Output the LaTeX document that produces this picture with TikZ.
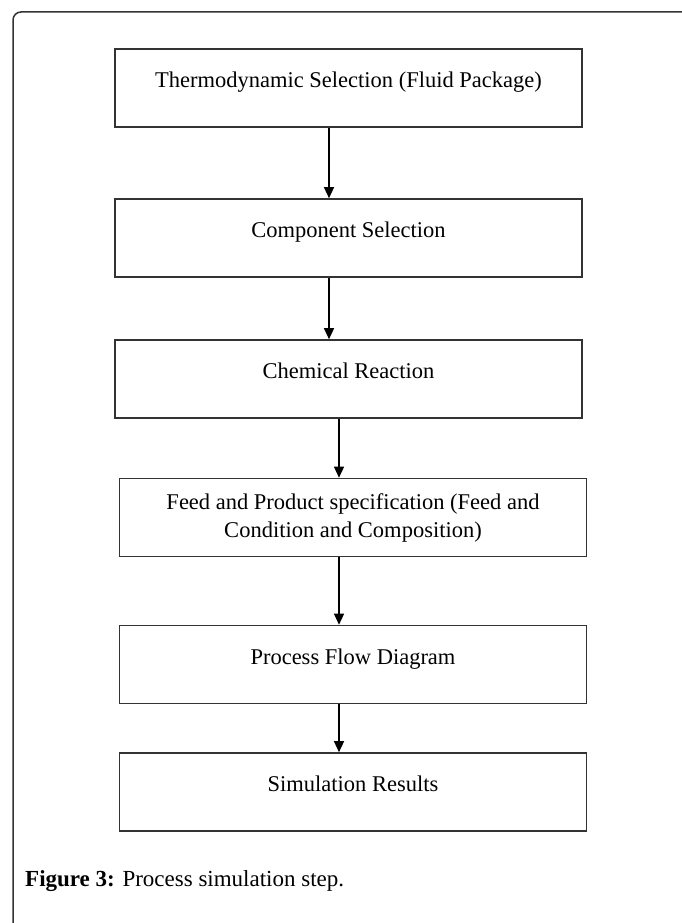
\documentclass[tikz,border=0pt]{standalone}
\usepackage{fontspec}
\setmainfont{Liberation Serif}
\usepackage{tikz}
\usetikzlibrary{arrows.meta, positioning}
\definecolor{edgegray}{HTML}{333333}
\tikzstyle{stepbox} = [rectangle, minimum width=467pt, minimum height=78pt, inner sep=0pt, text centered, align=center, draw=edgegray, line width=1.6pt, font=\fontsize{22.5}{28}\selectfont]
\tikzstyle{onerow} = [text height=16pt, text depth=17pt]
\tikzstyle{arrow} = [line width=1.3pt, -{Triangle[length=11pt,width=10pt]}, draw=black]
\tikzstyle{frame} = [line width=1.5pt, draw=edgegray, rounded corners=8pt]
\begin{document}
\begin{tikzpicture}[x=1pt, y=1pt, node distance=150pt]
    \useasboundingbox (0,0) rectangle (682,-923);
    \draw [frame] (13,-940) |- (700,-12);

    \node (therm) [stepbox, onerow] at (348.5,-88) {Thermodynamic Selection (Fluid Package)};
    \node (comp) [stepbox, onerow, below of=therm] {Component Selection};
    \node (react) [stepbox, onerow, below of=comp, yshift=9pt] {Chemical Reaction};
    \node (feed) [stepbox, below of=react, xshift=4.5pt, yshift=11.5pt] {Feed and Product specification (Feed and\\Condition and Composition)};
    \node (pfd) [stepbox, onerow, below of=feed, yshift=3pt] {Process Flow Diagram};
    \node (results) [stepbox, onerow, below of=pfd, yshift=22.5pt] {Simulation Results};

    \node (caption) [anchor=base west, inner sep=0pt, font=\fontsize{23}{28}\selectfont] at (25,-886) {\textbf{Figure 3:} Process simulation step.};

    \draw [arrow] ([xshift=-19.5pt]therm.south) -- ([xshift=-19.5pt]comp.north);
    \draw [arrow] ([xshift=-19.5pt]comp.south) -- ([xshift=-19.5pt]react.north);
    \draw [arrow] ([xshift=-9.5pt]react.south) -- ([xshift=-14pt]feed.north);
    \draw [arrow] ([xshift=-14pt]feed.south) -- ([xshift=-14pt]pfd.north);
    \draw [arrow] ([xshift=-14pt]pfd.south) -- ([xshift=-14pt]results.north);
\end{tikzpicture}
\end{document}
